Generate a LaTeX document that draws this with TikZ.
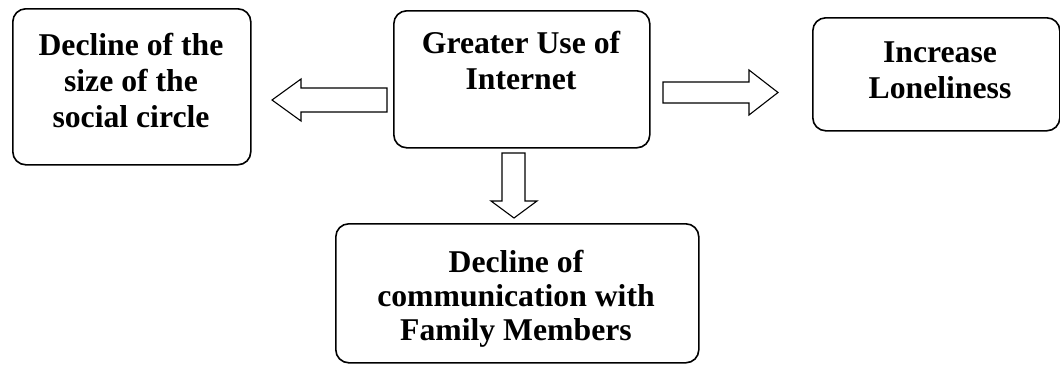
\documentclass[tikz,border=0pt]{standalone}
\usepackage{fontspec}
\setmainfont{Liberation Serif}
\begin{document}
\begin{tikzpicture}[x=1pt,y=-1pt,
  box/.style={draw, line width=1.6pt, rounded corners=13pt, inner sep=0pt, anchor=north west},
  txt/.style={font=\bfseries\fontsize{31.7}{36}\selectfont, align=center, inner sep=0pt, anchor=base},
  blk/.style={draw, line width=1.1pt, fill=white, line join=miter}]
\useasboundingbox (0,0) rectangle (1060,372);
% boxes
\node[box, minimum width=238pt, minimum height=156pt] (b1) at (12,8) {};
\node[box, minimum width=256pt, minimum height=137pt] (b2) at (393,10) {};
\node[box, minimum width=247pt, minimum height=113pt] (b3) at (812,17) {};
\node[box, minimum width=363pt, minimum height=139pt] (b4) at (335,223) {};
% texts (anchor = baseline of last line)
\node[txt] (t1) at (131,127) {Decline of the\\size of the\\social circle};
\node[txt] (t2) at (521,89) {Greater Use of\\Internet};
\node[txt] (t3) at (940,98) {Increase\\Loneliness};
\node[txt, font=\bfseries\fontsize{31.7}{34}\selectfont] (t4) at (516,340) {Decline of\\communication with\\Family Members};
% block arrows
\draw[blk] (387,88) -- (301,88) -- (301,79) -- (272,100) -- (301,121) -- (301,112) -- (387,112) -- cycle;
\draw[blk] (663,82) -- (749,82) -- (749,70) -- (778,92.5) -- (749,115) -- (749,103) -- (663,103) -- cycle;
\draw[blk] (502,153) -- (502,201) -- (491,201) -- (514,218) -- (537,201) -- (525,201) -- (525,153) -- cycle;
\end{tikzpicture}
\end{document}
